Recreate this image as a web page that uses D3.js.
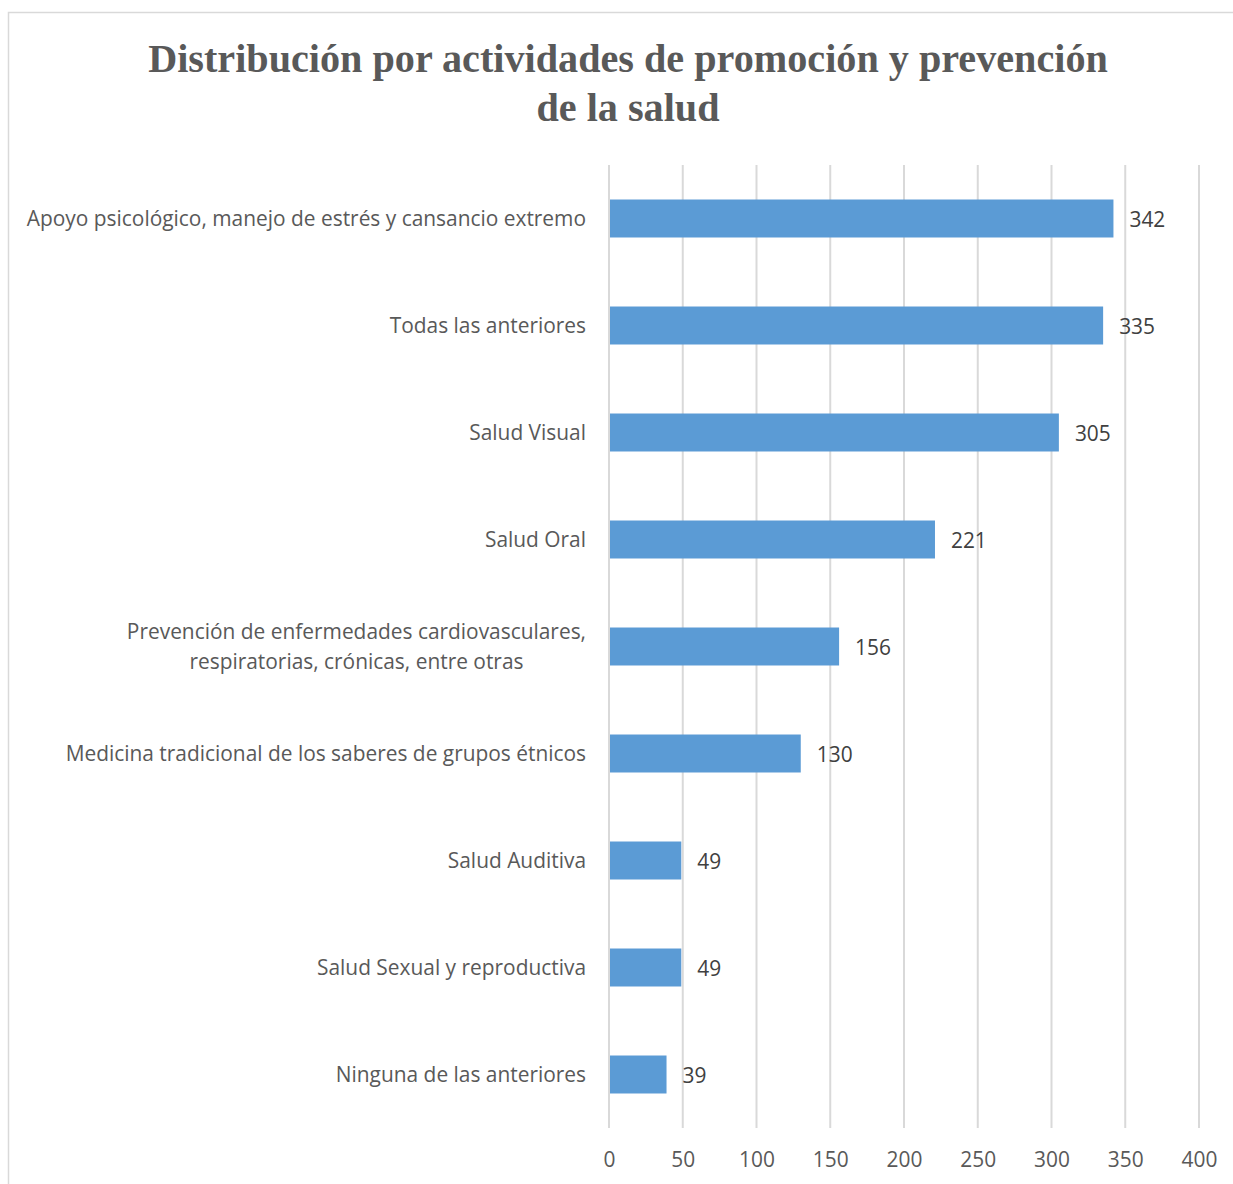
<!DOCTYPE html>
<html><head><meta charset="utf-8">
<script src="https://cdn.jsdelivr.net/npm/d3@7"></script>
<style>body{margin:0;background:#fff}svg{display:block}</style>
</head><body>
<svg id="c" width="1233" height="1184"></svg>
<script>
const categories = [
  "Apoyo psicológico, manejo de estrés y cansancio extremo",
  "Todas las anteriores",
  "Salud Visual",
  "Salud Oral",
  "Prevención de enfermedades cardiovasculares,|respiratorias, crónicas, entre otras",
  "Medicina tradicional de los saberes de grupos étnicos",
  "Salud Auditiva",
  "Salud Sexual y reproductiva",
  "Ninguna de las anteriores"
];
const values = [342, 335, 305, 221, 156, 130, 49, 49, 39];
const tickValues = [0, 50, 100, 150, 200, 250, 300, 350, 400];
const titleLines = ["Distribución por actividades de promoción y prevención", "de la salud"];

const FS = 20.9;
const svg = d3.select("#c");
// chart border
svg.append("rect").attr("x", 8.5).attr("y", 12.5).attr("width", 1240).attr("height", 1190)
  .attr("fill", "#fff").attr("stroke", "#d9d9d9").attr("stroke-width", 1.5);

const x = d3.scaleLinear().domain([0, 400]).range([609, 1199]);
const y = d3.scaleBand().domain(categories).range([165, 1128]).paddingInner(0.645).paddingOuter(0.3225);

// gridlines
svg.append("g").selectAll("line").data(tickValues).join("line")
  .attr("x1", d => x(d)).attr("x2", d => x(d)).attr("y1", 165).attr("y2", 1128)
  .attr("stroke", "#d9d9d9").attr("stroke-width", 2);

// bars
svg.append("g").selectAll("rect").data(values).join("rect")
  .attr("x", x(0) + 1).attr("y", (d, i) => y(categories[i]))
  .attr("width", d => x(d) - x(0) - 1).attr("height", y.bandwidth())
  .attr("fill", "#5b9bd5");

// value labels
svg.append("g").selectAll("text").data(values).join("text")
  .attr("x", d => x(d) + 16).attr("y", (d, i) => y(categories[i]) + y.bandwidth() / 2 + 1)
  .attr("dy", "0.35em").attr("font-family", "Open Sans").attr("font-size", FS)
  .attr("fill", "#404040").text(d => d);

// category labels
const lab = svg.append("g");
categories.forEach(c => {
  const lines = c.split("|");
  const cy = y(c) + y.bandwidth() / 2;
  const t = lab.append("text").attr("font-family", "Open Sans").attr("font-size", FS)
    .attr("fill", "#595959").attr("text-anchor", lines.length > 1 ? "middle" : "end");
  lines.forEach((ln, k) => {
    t.append("tspan").attr("x", 586).attr("y", cy + (k - (lines.length - 1) / 2) * 30).attr("dy", "0.35em").text(ln);
  });
});
lab.selectAll("text").each(function() {
  const t = d3.select(this);
  if (t.attr("text-anchor") === "middle") {
    const w = d3.max(t.selectAll("tspan").nodes(), n => n.getComputedTextLength());
    t.selectAll("tspan").attr("x", 586 - w / 2);
  }
});

// x axis tick labels
const ax = svg.append("g").attr("transform", "translate(0,1128)")
  .call(d3.axisBottom(x).tickValues(tickValues).tickSize(0).tickPadding(24));
ax.select(".domain").remove();
ax.selectAll("text").attr("font-family", "Open Sans").attr("font-size", FS).attr("fill", "#595959");

// title
const tt = svg.append("text").attr("text-anchor", "middle").attr("font-family", "Liberation Serif")
  .attr("font-weight", "bold").attr("font-size", 38).attr("fill", "#595959");
titleLines.forEach((ln, k) => {
  tt.append("tspan").attr("x", 628).attr("y", 72 + k * 49).text(ln);
});
const w0 = tt.select("tspan").node().getComputedTextLength();
tt.attr("font-size", 38 * 960 / w0);
</script>
</body></html>
